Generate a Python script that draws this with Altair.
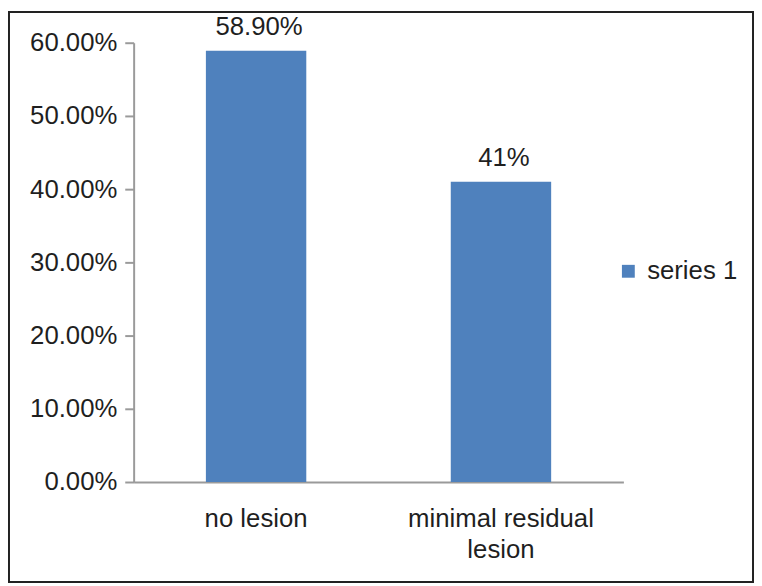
import altair as alt
import pandas as pd

categories = ["no lesion", "minimal residual lesion"]
values = [0.589, 0.41]
value_labels = ["58.90%", "41%"]
series_name = ["series 1", "series 1"]
y_ticks = [0, 0.1, 0.2, 0.3, 0.4, 0.5, 0.6]

df = pd.DataFrame({"category": categories, "value": values,
                   "label": value_labels, "series": series_name})

FONT = "Liberation Sans"
TXT = "#1f1f1f"
AX = "#9a9a9a"
FS = 26

x_enc = alt.X("category:N", sort=categories,
              scale=alt.Scale(paddingInner=0.59, paddingOuter=0.295),
              axis=alt.Axis(title=None, labelAngle=0, ticks=False,
                            domainColor=AX, domainWidth=2,
                            labelFont=FONT, labelFontSize=FS, labelColor=TXT,
                            labelPadding=24, labelLineHeight=31, labelLimit=400,
                            labelExpr="datum.label == 'minimal residual lesion' ? ['minimal residual', 'lesion'] : datum.label"))
y_enc = alt.Y("value:Q", scale=alt.Scale(domain=[0, 0.6], nice=False),
              axis=alt.Axis(title=None, values=y_ticks, format=".2%", grid=False,
                            domainColor=AX, domainWidth=2, tickColor=AX, tickWidth=2,
                            tickSize=9, labelPadding=8,
                            labelFont=FONT, labelFontSize=FS, labelColor=TXT))

bars = alt.Chart(df).mark_bar(color="#4F81BD").encode(
    x=x_enc, y=y_enc,
    color=alt.Color("series:N",
                    scale=alt.Scale(range=["#4F81BD"]),
                    legend=alt.Legend(title=None, orient="none", legendX=487, legendY=218,
                                      symbolType="square", symbolSize=169,
                                      symbolStrokeWidth=0, symbolFillColor="#4F81BD",
                                      labelFont=FONT, labelFontSize=FS, labelColor=TXT,
                                      labelOffset=6)),
)

texts = alt.Chart(df).mark_text(font=FONT, fontSize=FS, color=TXT, dy=-11, dx=3,
                                baseline="bottom").encode(
    x=alt.X("category:N", sort=categories), y="value:Q", text="label:N")

border = alt.Chart(alt.Data(values=[{}])).mark_rect(
    fill=None, stroke="#222222", strokeWidth=2).encode(
    x=alt.value(-126), x2=alt.value(626), y=alt.value(-31), y2=alt.value(545))

chart = alt.layer(bars, texts, border).properties(
    width=495, height=444,
    background="white",
    autosize=alt.AutoSizeParams(type="none"),
    padding={"left": 127, "top": 32, "right": 132, "bottom": 102},
).configure_view(stroke=None, strokeWidth=0)

chart.save("out.html", embed_options={"renderer": "svg", "actions": False})
